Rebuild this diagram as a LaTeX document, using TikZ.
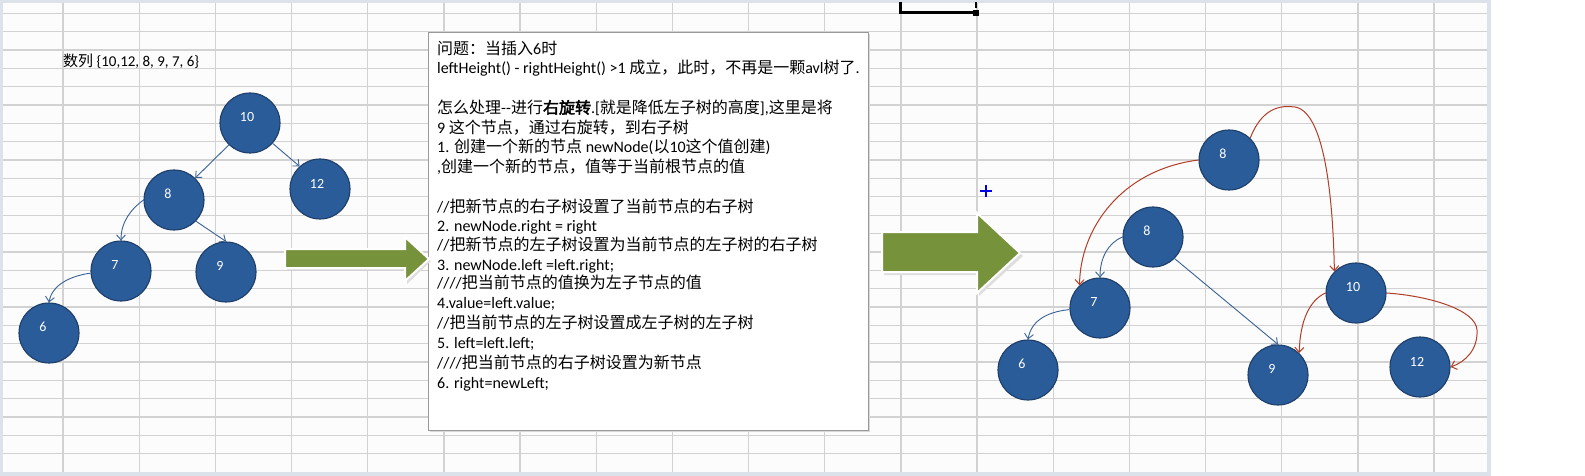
\documentclass[tikz,border=0pt]{standalone}
\usepackage{fontspec}
\setmainfont{Carlito}
\newfontfamily\cjk[AutoFakeBold=2.5,Scale=1.0]{Noto Sans CJK SC}
\newcommand{\zhs}[1]{{\cjk #1}}
\usetikzlibrary{arrows.meta}
\definecolor{nodeblue}{RGB}{42,92,154}
\definecolor{nodeedge}{RGB}{30,62,105}
\definecolor{edgeblue}{RGB}{58,98,150}
\definecolor{edgered}{RGB}{178,62,40}
\definecolor{arrgreen}{RGB}{118,146,58}
\definecolor{gridc}{RGB}{210,210,210}
\definecolor{framec}{RGB}{220,226,234}
\definecolor{sheet}{RGB}{251,252,251}
\begin{document}
\begin{tikzpicture}[x=1pt,y=-1pt,
  gridl/.style={draw=gridc,line width=1.3pt},
  bnode/.style={circle,minimum size=60pt,inner sep=0pt,fill=nodeblue,draw=nodeedge,line width=1.1pt},
  lbl/.style={text=white,inner sep=0pt,font=\fontsize{14}{14}\selectfont},
  one/.style={label={[lbl,xshift=-6pt,yshift=6pt]center:#1}},
  two/.style={label={[lbl,xshift=-3pt,yshift=5.5pt]center:#1}},
  be/.style={draw=edgeblue,line width=0.9pt,-{Straight Barb[length=5pt,width=9pt]}},
  re/.style={draw=edgered,line width=1pt,-{Straight Barb[length=5pt,width=9pt]}},
  tl/.style={anchor=base west,inner sep=0pt,font=\fontsize{16}{18}\selectfont},
  garrow/.style={fill=arrgreen,draw=white,line width=2pt,line join=miter},
  gshadow/.style={fill=black!13}
]
\useasboundingbox (0,0) rectangle (1585,476);
\fill[white] (0,0) rectangle (1585,476);
\fill[framec] (0,0) rectangle (1491,476);
\fill[sheet] (3,3) rectangle (1487,472);
\foreach \j in {0,...,24} \draw[gridl] (3,{13.3+18.35*\j}) -- (1487,{13.3+18.35*\j});
\foreach \k in {0,...,18} \draw[gridl] ({63+76.17*\k},3) -- ({63+76.17*\k},472);

% selection mark
\draw[black,line width=3pt] (900,2) -- (900,13) -- (973,13);
\draw[black,line width=1.5pt] (976,2) -- (976,8);
\fill[black] (973,10) rectangle (979,16);

% sequence label
\node[tl,font=\fontsize{15}{16}\selectfont] (seq) at (63,67) {\zhs{数列} \{10,12, 8, 9, 7, 6\}};

% text box
\fill[black!15] (430,34) rectangle (870,432);
\node[draw=black!40,fill=white,line width=1pt,anchor=north west,minimum width=440pt,minimum height=398pt,inner sep=0pt] (box) at (428,32) {};
\node[tl] (t1) at (437,54.5) {\zhs{问题：当插入}6\zhs{时}};
\node[tl] (t2) at (437,73.5) {leftHeight() - rightHeight() >1 \zhs{成立，此时，不再是一颗}avl\zhs{树了}.};
\node[tl] (t3) at (437,113.5) {\zhs{怎么处理}-{}-\zhs{进行\textbf{右旋转}}.[\zhs{就是降低左子树的高度}],\zhs{这里是将}};
\node[tl] (t4) at (437,133.5) {9 \zhs{这个节点，通过右旋转，到右子树}};
\node[tl] (t5) at (437,152.5) {1. \zhs{创建一个新的节点} newNode(\zhs{以}10\zhs{这个值创建})};
\node[tl] (t6) at (437,172.5) {,\zhs{创建一个新的节点，值等于当前根节点的值}};
\node[tl] (t7) at (437,212.5) {//\zhs{把新节点的右子树设置了当前节点的右子树}};
\node[tl] (t8) at (437,231.5) {2. newNode.right = right};
\node[tl] (t9) at (437,250.5) {//\zhs{把新节点的左子树设置为当前节点的左子树的右子树}};
\node[tl] (t10) at (437,270.5) {3. newNode.left =left.right;};
\node[tl] (t11) at (437,288.5) {////\zhs{把当前节点的值换为左子节点的值}};
\node[tl] (t12) at (437,308.5) {4.value=left.value;};
\node[tl] (t13) at (437,328.5) {//\zhs{把当前节点的左子树设置成左子树的左子树}};
\node[tl] (t14) at (437,348.5) {5. left=left.left;};
\node[tl] (t15) at (437,368.5) {////\zhs{把当前节点的右子树设置为新节点}};
\node[tl] (t16) at (437,388.5) {6. right=newLeft;};

% green arrows
\fill[gshadow] (287,251) -- (407,251) -- (407,240) -- (431,261) -- (407,284) -- (407,270) -- (287,270) -- cycle;
\draw[garrow] (285,249) -- (405,249) -- (405,237) -- (429,259) -- (405,281) -- (405,268) -- (285,268) -- cycle;
\fill[gshadow] (884,235) -- (979,235) -- (979,216) -- (1023,256) -- (979,296) -- (979,275) -- (884,275) -- cycle;
\draw[garrow] (882,232) -- (977,232) -- (977,213) -- (1020,253) -- (977,293) -- (977,272) -- (882,272) -- cycle;

% cursor
\draw[blue!90!black,line width=1.8pt] (980,191) -- (992,191) (986,185) -- (986,197);

% left tree
\node[bnode,two=10] (n10) at (250,123) {};
\node[bnode,two=12] (n12) at (320,189) {};
\node[bnode,one=8] (n8) at (174,200) {};
\node[bnode,one=7] (n7) at (121,271) {};
\node[bnode,one=9] (n9) at (226,272) {};
\node[bnode,one=6] (n6) at (49,333) {};
\draw[be] (n10.-134) -- (n8.46);
\draw[be] (n10.-42) -- (n12.132);
\draw[be] (n8.-44) -- (n9.north);
\draw[be] (n8.west) .. controls (131,209) and (121,222) .. (n7.north);
\draw[be] (n7.184) .. controls (70,276) and (52,285) .. (n6.north);

% right tree
\node[bnode,one=8] (r8t) at (1229,160) {};
\node[bnode,one=8] (r8) at (1153,237) {};
\node[bnode,one=7] (r7) at (1100,308) {};
\node[bnode,one=6] (r6) at (1028,370) {};
\node[bnode,one=9] (r9) at (1278,375) {};
\node[bnode,two=10] (r10) at (1356,293) {};
\node[bnode,two=12] (r12) at (1420,367) {};
\draw[be] (r8.west) .. controls (1108,243) and (1100,258) .. (r7.north);
\draw[be] (r7.183) .. controls (1045,312) and (1031,322) .. (r6.north);
\draw[be] (r8.-45) -- (r9.north);
\draw[re] (r8t.west) .. controls (1120,170) and (1080,230) .. (r7.132);
\draw[re] (r8t.46) .. controls (1262,108) and (1280,105) .. (1295,107) .. controls (1325,112) and (1333,200) .. (r10.135);
\draw[re] (r10.west) .. controls (1310,300) and (1300,320) .. (r9.46);
\draw[re] (r10.east) .. controls (1430,296) and (1476,310) .. (1477,330) .. controls (1478,350) and (1465,362) .. (r12.east);
\end{tikzpicture}
\end{document}
